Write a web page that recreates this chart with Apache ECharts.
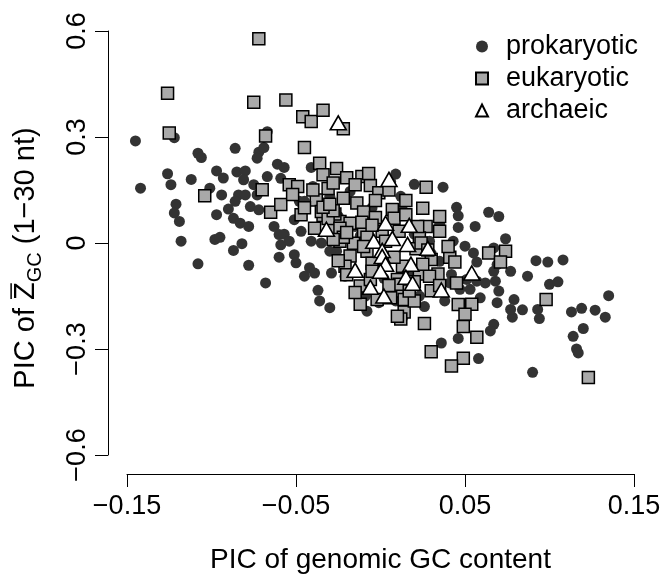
<!DOCTYPE html>
<html>
<head>
<meta charset="utf-8">
<script src="https://cdn.jsdelivr.net/npm/echarts@6/dist/echarts.min.js"></script>
<style>
html, body { margin: 0; background: #fff; }
#chart { width: 663px; height: 578px; }
</style>
</head>
<body>
<div id="chart"></div>
<script>
// tick labels
var xTicks = [-0.15, -0.05, 0.05, 0.15];
var yTicks = [-0.6, -0.3, 0, 0.3, 0.6];
var groupNames = ['prokaryotic', 'eukaryotic', 'archaeic'];

// prokaryotic (dark dots)
var prokX = [-0.145,-0.122,-0.142,-0.126,-0.124,-0.112,-0.108,-0.106,-0.097,-0.093,
  -0.086,-0.085,-0.080,-0.081,-0.072,-0.073,-0.069,-0.067,-0.067,-0.061,
  -0.057,-0.041,-0.059,-0.094,-0.101,-0.084,-0.080,-0.073,-0.075,-0.121,
  -0.122,-0.119,-0.118,-0.108,-0.097,-0.090,-0.098,-0.095,-0.087,-0.082,
  -0.078,-0.086,-0.087,-0.083,-0.078,-0.077,-0.072,-0.063,-0.060,-0.057,
  -0.051,-0.047,-0.059,-0.060,-0.068,-0.051,-0.050,-0.042,-0.039,-0.045,
  -0.041,-0.035,-0.029,-0.037,-0.036,-0.030,-0.026,0.020,0.037,0.045,
  0.046,0.046,0.064,0.070,0.074,0.043,0.057,0.077,0.087,0.092,
  0.099,0.108,0.100,0.105,0.135,0.113,0.119,0.127,0.133,0.120,
  0.114,0.116,0.117,0.090,0.058,0.067,0.065,0.036,0.046,0.084,
  0.078,0.094,0.093,0.077,0.079,0.069,0.070,0.068,0.067,0.062,
  0.057,0.053,0.047,0.059,0.051,0.055,0.069,0.031,0.035,0.042,
  0.067,0.013,-0.008,-0.001,0.041,0.013,0.026,-0.030,-0.045,-0.018,
  0.006,-0.030,-0.021,0.000,0.017,0.029,0.012,0.035,-0.009,0.038,
  0.023,-0.015,-0.054,-0.048,0.009,0.050,0.056,0.009,-0.012,0.002,
  -0.025,0.020,-0.040,0.030,-0.005,0.015];
var prokY = [0.289,0.298,0.155,0.196,0.165,0.180,0.254,0.242,0.204,0.184,
  0.268,0.201,0.204,0.179,0.257,0.240,0.270,0.315,0.188,0.223,
  0.214,0.214,0.183,0.136,0.155,0.136,0.136,0.136,0.165,0.110,
  0.085,0.061,0.005,-0.059,0.080,0.096,0.010,0.016,-0.021,-0.002,
  -0.063,0.118,0.070,0.056,0.047,0.103,0.094,0.047,0.024,0.025,
  0.066,0.033,-0.005,-0.040,-0.113,-0.033,-0.056,-0.070,-0.085,-0.094,
  0.005,0.000,-0.085,-0.134,-0.164,-0.183,-0.023,0.166,0.158,0.101,
  0.077,0.044,0.087,0.075,0.012,0.005,-0.054,-0.080,-0.094,-0.050,
  -0.054,-0.048,-0.117,-0.110,-0.149,-0.195,-0.185,-0.190,-0.210,-0.242,
  -0.264,-0.300,-0.311,-0.366,-0.327,-0.230,-0.249,-0.283,-0.270,-0.189,
  -0.210,-0.214,-0.188,-0.188,-0.160,-0.169,-0.136,-0.108,-0.080,-0.113,
  -0.108,-0.131,-0.131,-0.155,-0.103,-0.028,-0.061,-0.046,0.053,-0.089,
  -0.014,0.094,-0.193,-0.169,-0.113,-0.211,-0.180,0.132,0.118,0.146,
  0.174,-0.023,-0.094,-0.066,-0.080,0.005,0.132,-0.052,-0.150,-0.164,
  -0.150,0.047,0.005,0.118,-0.164,-0.009,0.047,0.195,0.020,-0.100,
  0.075,0.025,0.160,-0.030,0.100,-0.140];

// eukaryotic (grey squares)
var eukX = [-0.072,-0.126,-0.125,-0.075,-0.056,-0.046,-0.041,-0.034,-0.022,-0.068,
  -0.045,-0.104,-0.070,-0.065,-0.059,-0.054,-0.049,-0.052,-0.047,-0.036,
  -0.034,-0.026,-0.020,-0.011,-0.031,-0.022,-0.038,-0.034,-0.039,-0.024,
  -0.018,-0.014,-0.010,-0.024,-0.016,-0.018,-0.012,-0.012,-0.029,-0.006,
  -0.001,0.007,0.027,0.025,-0.010,-0.008,0.027,0.035,0.023,0.021,
  0.030,0.041,0.034,0.023,0.013,0.010,0.010,-0.002,0.030,0.046,
  0.054,0.050,0.049,0.014,0.012,0.026,0.057,0.030,0.045,0.014,
  0.064,0.074,0.071,0.044,0.098,0.020,0.049,0.042,0.123,-0.003,
  -0.007,-0.027,-0.035,-0.031,-0.028,-0.011,-0.024,-0.022,-0.008,0.008,
  0.011,0.022,0.024,0.029,0.011,-0.006,0.006,0.010,0.001,-0.005,
  0.003,-0.021,0.017,-0.034,-0.040,-0.028,-0.015,-0.003,0.005,0.015,
  -0.045,-0.030,-0.020,-0.005,0.015,0.035,-0.028,-0.010,0.008,0.028,
  -0.020,-0.005,0.020,0.035,-0.025,0.040,0.005,-0.015,0.025];
var eukY = [0.578,0.424,0.311,0.398,0.405,0.357,0.344,0.376,0.323,0.303,
  0.270,0.134,0.151,0.087,0.109,0.165,0.160,0.137,0.080,0.226,
  0.193,0.211,0.185,0.188,0.154,0.127,0.122,0.078,0.042,0.061,
  0.056,0.113,0.088,0.005,-0.001,-0.037,-0.122,-0.173,0.038,0.163,
  0.142,0.095,0.158,0.098,0.033,-0.023,0.047,0.033,0.014,-0.016,
  -0.047,-0.040,-0.088,-0.088,-0.066,-0.103,-0.136,-0.160,-0.135,-0.174,
  -0.173,-0.202,-0.236,-0.195,-0.215,-0.228,-0.267,-0.308,-0.113,-0.160,
  -0.028,-0.023,-0.054,-0.054,-0.160,-0.164,-0.326,-0.348,-0.381,0.072,
  0.197,0.082,0.089,0.069,0.091,0.059,0.042,0.016,0.016,0.070,
  0.033,0.047,0.000,-0.094,-0.117,-0.103,-0.155,-0.207,0.033,-0.057,
  0.005,-0.066,-0.136,0.101,0.150,0.170,0.165,0.120,0.150,0.120,
  0.100,0.110,0.030,0.050,0.080,0.075,0.010,-0.010,-0.040,-0.020,
  -0.090,-0.080,-0.110,-0.120,-0.050,-0.010,-0.120,-0.140,-0.060];

// archaeic (white triangles)
var archX = [-0.025,0.005,-0.032,0.003,0.017,-0.004,0.007,0.016,0.028,0.001,
  0.001,0.003,0.018,-0.015,0.000,0.015,0.019,-0.006,0.002,0.036,0.054];
var archY = [0.340,0.180,0.039,0.056,0.050,0.005,0.013,-0.004,-0.015,-0.021,
  -0.038,-0.060,-0.060,-0.077,-0.080,-0.097,-0.114,-0.125,-0.150,-0.133,-0.085];

var FONT = '"Liberation Sans", Arial, Helvetica, sans-serif';
var FS = 27;

function zip(xs, ys) {
  return xs.map(function (x, i) { return [x, ys[i]]; });
}
function fmt(v) {
  return String(v).replace('-', '\u2212');
}

// y axis title with overlined Z and subscript GC
var ctx = document.createElement('canvas').getContext('2d');
function textW(s, size) {
  ctx.font = size + 'px ' + FONT;
  return ctx.measureText(s).width;
}
var titleFS = 29, subFS = 20;
var tA = 'PIC of ', tZ = 'Z', tS = 'GC', tB = ' (1\u221230 nt)';
var wA = textW(tA, titleFS), wZ = textW(tZ, titleFS), wS = textW(tS, subFS), wB = textW(tB, titleFS);
var x0 = -(wA + wZ + wS + wB) / 2;
function piece(s, x, y, size) {
  return {
    type: 'text', x: x, y: y,
    style: { text: s, font: size + 'px ' + FONT, fill: '#000', align: 'left', verticalAlign: 'middle' }
  };
}
var mid = -0.35 * titleFS;
var yTitle = {
  type: 'group', x: 36, y: 258, rotation: Math.PI / 2,
  children: [
    piece(tA, x0, mid, titleFS),
    piece(tZ, x0 + wA, mid, titleFS),
    piece(tS, x0 + wA + wZ, 6 - 0.35 * subFS, subFS),
    piece(tB, x0 + wA + wZ + wS, mid, titleFS),
    {
      type: 'line',
      shape: { x1: x0 + wA + 1, y1: -0.72 * titleFS - 4, x2: x0 + wA + wZ - 1, y2: -0.72 * titleFS - 4 },
      style: { stroke: '#000', lineWidth: 1.5 }
    }
  ]
};

var chart = echarts.init(document.getElementById('chart'), null, { renderer: 'canvas' });
chart.setOption({
  animation: false,
  backgroundColor: '#fff',
  grid: { left: 127, right: 29, top: 31, bottom: 123, outerBoundsMode: 'none' },
  legend: {
    orient: 'vertical', left: 475, top: 33, padding: 0,
    itemWidth: 12, itemHeight: 12, itemGap: 5,
    selectedMode: false,
    data: groupNames,
    textStyle: { fontSize: FS, fontFamily: FONT, color: '#000', padding: [0, 0, 0, 13] }
  },
  xAxis: {
    type: 'value', min: -0.15, max: 0.15, offset: 19,
    splitLine: { show: false },
    axisLine: { show: true, onZero: false, lineStyle: { color: '#000', width: 1 } },
    axisTick: { show: true, length: 13, customValues: xTicks, lineStyle: { color: '#000', width: 1 } },
    axisLabel: {
      customValues: xTicks, formatter: fmt, margin: 19,
      fontSize: FS, fontFamily: FONT, color: '#000'
    },
    name: 'PIC of genomic GC content', nameLocation: 'middle', nameGap: 72,
    nameTextStyle: { fontSize: 28, fontFamily: FONT, color: '#000' }
  },
  yAxis: {
    type: 'value', min: -0.6, max: 0.6, interval: 0.3, offset: 19,
    splitLine: { show: false },
    axisLine: { show: true, onZero: false, lineStyle: { color: '#000', width: 1 } },
    axisTick: { show: true, length: 13, customValues: yTicks, lineStyle: { color: '#000', width: 1 } },
    axisLabel: {
      customValues: yTicks, formatter: fmt, rotate: 90, margin: 17,
      fontSize: FS, fontFamily: FONT, color: '#000'
    }
  },
  graphic: [yTitle],
  series: [
    {
      name: 'prokaryotic', type: 'scatter', symbol: 'circle', symbolSize: 11,
      data: zip(prokX, prokY), z: 1, clip: false, silent: true,
      itemStyle: { color: '#333333', opacity: 1 }
    },
    {
      name: 'eukaryotic', type: 'scatter', symbol: 'rect', symbolSize: 12,
      data: zip(eukX, eukY), z: 2, clip: false, silent: true,
      itemStyle: { color: '#a9a9a9', borderColor: '#000', borderWidth: 1.5, opacity: 1 }
    },
    {
      name: 'archaeic', type: 'scatter', symbol: 'triangle', symbolSize: [16, 14],
      data: zip(archX, archY), z: 3, clip: false, silent: true,
      itemStyle: { color: '#fff', borderColor: '#000', borderWidth: 1.6, opacity: 1 }
    }
  ]
});
</script>
</body>
</html>
